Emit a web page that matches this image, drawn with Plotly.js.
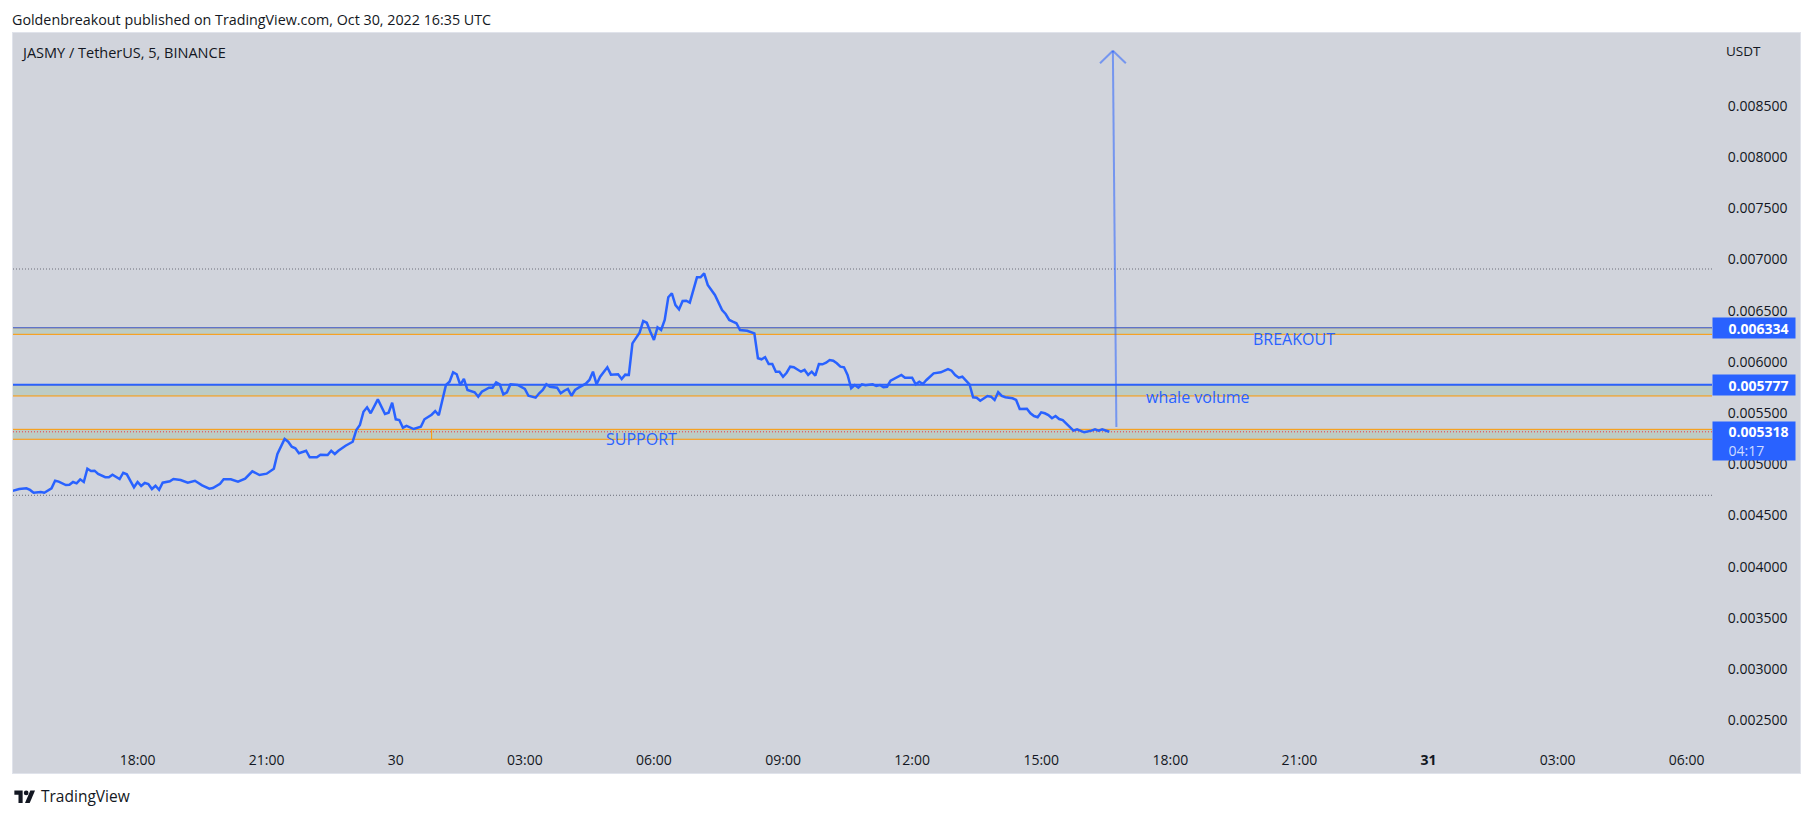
<!DOCTYPE html>
<html><head><meta charset="utf-8">
<script src="https://cdn.plot.ly/plotly-3.0.1.min.js"></script>
<style>
body{margin:0;width:1813px;height:818px;background:#fff;position:relative;overflow:hidden;font-family:"Open Sans",sans-serif;color:#131722}
#hdr{position:absolute;left:12px;top:10px;font-size:14.3px;line-height:20px;white-space:nowrap}
#panel{position:absolute;left:13px;top:33px;width:1787px;height:740px;outline:1px solid #E0E3EB}
#legend{position:absolute;left:23px;top:43px;font-size:14.5px;line-height:20px;white-space:nowrap}
#usdt{position:absolute;left:1726px;top:42px;font-size:13.5px;line-height:18px}
#footer{position:absolute;left:14px;top:786px;height:20px;display:flex;align-items:center;font-size:15.5px;white-space:nowrap}
#footer svg{margin-right:5px}
</style></head>
<body>
<div id="hdr">Goldenbreakout published on TradingView.com, Oct 30, 2022 16:35 UTC</div>
<div id="panel"></div>
<div id="legend">JASMY / TetherUS, 5, BINANCE</div>
<div id="usdt">USDT</div>
<div id="footer"><svg width="22" height="13" viewBox="0 0 36 22"><path d="M14 22H7V8H0V1h14z" fill="#131722"/><circle cx="20" cy="5" r="4" fill="#131722"/><path d="M27 1h8l-9 21h-8z" fill="#131722"/></svg>TradingView</div>
<script>
// ---- data ----
const timesOct29 = [
"15:05","15:15","15:25","15:30","15:35","15:45","15:50",
"16:00","16:05","16:10","16:20","16:25","16:30","16:35","16:40","16:45","16:50","16:55",
"17:00","17:05","17:15","17:20","17:25","17:35","17:40","17:45","17:55",
"18:00","18:05","18:10","18:15","18:20","18:25","18:30","18:35","18:45","18:50",
"19:00","19:10","19:20","19:30","19:40","19:45","19:55",
"20:00","20:10","20:20","20:30","20:40","20:50",
"21:00","21:10","21:15","21:25","21:30","21:35","21:40","21:45","21:55",
"22:00","22:10","22:15","22:25","22:30","22:35","22:40","22:50",
"23:00","23:05","23:10","23:15","23:20","23:25","23:35","23:45","23:50","23:55"];
const pricesOct29 = [
0.004740,0.004759,0.004766,0.004750,0.004723,0.004730,0.004723,
0.004766,0.004840,0.004831,0.004798,0.004801,0.004828,0.004815,0.004854,0.004828,0.004958,0.004935,
0.004938,0.004906,0.004874,0.004874,0.004899,0.004857,0.004918,0.004903,0.004776,
0.004828,0.004789,0.004818,0.004808,0.004759,0.004791,0.004752,0.004821,0.004834,0.004857,
0.004847,0.004821,0.004840,0.004795,0.004762,0.004769,0.004811,
0.004854,0.004854,0.004831,0.004860,0.004932,0.004896,
0.004909,0.004958,0.005101,0.005248,0.005221,0.005172,0.005157,0.005108,0.005133,
0.005069,0.005069,0.005094,0.005091,0.005133,0.005101,0.005133,0.005182,
0.005221,0.005336,0.005384,0.005514,0.005557,0.005499,0.005635,0.005492,0.005504,0.005602];
const timesOct30 = [
"00:00","00:05","00:10","00:15","00:25","00:35","00:40","00:50","00:55",
"01:00","01:10","01:15","01:20","01:25","01:30","01:35","01:40","01:50","01:55",
"02:00","02:10","02:15","02:20","02:25","02:30","02:35","02:40","02:50",
"03:00","03:05","03:15","03:20","03:25","03:30","03:35","03:45","03:50","03:55",
"04:00","04:05","04:10","04:15","04:25","04:30","04:35","04:40","04:45","04:55",
"05:00","05:10","05:15","05:20","05:25","05:30","05:35","05:40","05:45","05:50","05:55",
"06:00","06:05","06:10","06:15","06:20","06:25","06:30","06:35","06:40","06:45","06:50",
"07:00","07:05","07:10","07:15","07:25","07:30","07:35","07:40","07:45","07:50","07:55",
"08:00","08:10","08:20","08:25","08:30","08:35","08:40","08:45","08:50","08:55",
"09:00","09:05","09:10","09:15","09:25","09:30","09:35","09:40","09:45","09:50","09:55",
"10:00","10:05","10:10","10:15","10:20","10:25","10:30","10:35","10:40","10:45","10:50","10:55",
"11:05","11:10","11:15","11:20","11:25","11:30","11:40","11:45","11:50",
"12:00","12:05","12:10","12:15","12:20","12:30","12:40","12:50","12:55",
"13:00","13:05","13:10","13:20","13:25","13:30","13:35","13:45","13:50","13:55",
"14:00","14:05","14:10","14:20","14:25","14:30","14:40","14:45","14:50","14:55",
"15:00","15:05","15:10","15:15","15:20","15:25","15:30","15:35","15:40","15:45","15:50","15:55",
"16:00","16:10","16:15","16:20","16:25","16:35"];
const pricesOct30 = [
0.005440,0.005433,0.005358,0.005375,0.005345,0.005368,0.005440,0.005485,0.005521,
0.005479,0.005775,0.005807,0.005899,0.005880,0.005775,0.005834,0.005726,0.005704,0.005661,
0.005710,0.005749,0.005749,0.005801,0.005782,0.005684,0.005704,0.005782,0.005775,
0.005736,0.005670,0.005651,0.005694,0.005726,0.005782,0.005758,0.005749,0.005694,0.005719,
0.005736,0.005670,0.005726,0.005749,0.005788,0.005824,0.005905,0.005782,0.005856,0.005948,
0.005876,0.005880,0.005834,0.005876,0.005873,0.006182,0.006231,0.006286,0.006400,0.006383,0.006296,
0.006215,0.006339,0.006312,0.006410,0.006632,0.006671,0.006556,0.006514,0.006595,0.006598,0.006579,
0.006827,0.006827,0.006866,0.006752,0.006654,0.006573,0.006508,0.006468,0.006410,0.006393,0.006378,
0.006312,0.006305,0.006280,0.006036,0.006026,0.006046,0.005980,0.005980,0.005905,0.005905,
0.005856,0.005895,0.005954,0.005948,0.005905,0.005922,0.005873,0.005905,0.005866,0.005980,0.005977,
0.005993,0.006019,0.006012,0.005987,0.005954,0.005948,0.005873,0.005743,0.005775,0.005749,0.005782,0.005772,
0.005782,0.005765,0.005775,0.005753,0.005758,0.005817,0.005856,0.005873,0.005846,
0.005846,0.005782,0.005807,0.005785,0.005824,0.005889,0.005899,0.005931,0.005915,
0.005873,0.005846,0.005856,0.005782,0.005655,0.005651,0.005622,0.005668,0.005661,0.005629,
0.005704,0.005668,0.005655,0.005645,0.005629,0.005541,0.005544,0.005499,0.005472,0.005460,
0.005508,0.005499,0.005482,0.005450,0.005472,0.005443,0.005433,0.005401,0.005368,0.005329,0.005342,0.005329,
0.005313,0.005329,0.005342,0.005329,0.005342,0.005318];

const xTickTimes = ["2022-10-29 18:00","2022-10-29 21:00","2022-10-30 00:00","2022-10-30 03:00","2022-10-30 06:00","2022-10-30 09:00","2022-10-30 12:00","2022-10-30 15:00","2022-10-30 18:00","2022-10-30 21:00","2022-10-31 00:00","2022-10-31 03:00","2022-10-31 06:00"];
const xTickLabels = ["18:00","21:00","30","03:00","06:00","09:00","12:00","15:00","18:00","21:00","<b>31</b>","03:00","06:00"];
const yTicks = [0.0025,0.003,0.0035,0.004,0.0045,0.005,0.0055,0.006,0.0065,0.007,0.0075,0.008,0.0085];

const bandLow  = [0.006270, 0.005668, 0.005245];
const bandHigh = [0.006334, 0.005777, 0.005342];
const supportSplitTime = "2022-10-30 00:50";
const dottedLevels = [0.006908, 0.004698];
const blueLevels = [0.006334, 0.005777];
const lastPrice = 0.005318;
const countdown = "04:17";
const labelTexts = ["SUPPORT","BREAKOUT","whale volume"];
const labelTimes = ["2022-10-30 05:42","2022-10-30 20:52","2022-10-30 18:39"];
const labelPrices = [0.005248, 0.006224, 0.005661];
const arrowTimes  = ["2022-10-30 16:44:48","2022-10-30 16:39:54","2022-10-30 16:22:00","2022-10-30 16:58:00"]; // base, tip, left wing, right wing
const arrowPrices = [0.005365, 0.009040, 0.008917, 0.008917];

// ---- build ----
const times = timesOct29.map(t=>"2022-10-29 "+t).concat(timesOct30.map(t=>"2022-10-30 "+t));
const prices = pricesOct29.concat(pricesOct30);
const xRange = ["2022-10-29 15:06:18","2022-10-31 06:35:18"];

const BLUE="#2962FF", ORANGE="#FF9800", BAND="#BDCCC5", FONT="Open Sans, sans-serif", TXT="#131722";
const shapes=[];
bandLow.forEach((lo,i)=>{
  shapes.push({type:"rect",xref:"paper",x0:0,x1:1,yref:"y",y0:lo,y1:bandHigh[i],fillcolor:BAND,line:{width:0},layer:"below"});
  [lo,bandHigh[i]].forEach(v=>shapes.push({type:"line",xref:"paper",x0:0,x1:1,yref:"y",y0:v,y1:v,line:{color:ORANGE,width:1},layer:"below"}));
});
shapes.push({type:"line",xref:"x",x0:supportSplitTime,x1:supportSplitTime,yref:"y",y0:bandLow[2],y1:bandHigh[2],line:{color:ORANGE,width:1},layer:"below"});
dottedLevels.forEach(v=>shapes.push({type:"line",xref:"paper",x0:0,x1:1,yref:"y",y0:v,y1:v,line:{color:"#6A6D78",width:1,dash:"1px,2px"},layer:"below"}));
shapes.push({type:"line",xref:"paper",x0:0,x1:1,yref:"y",y0:lastPrice,y1:lastPrice,line:{color:"#F23645",width:1,dash:"1px,2px"},layer:"below"});
blueLevels.forEach((v,i)=>shapes.push({type:"line",xref:"paper",x0:0,x1:1,yref:"y",y0:v,y1:v,line:{color:BLUE,width:i===1?2:1},layer:"below"}));
const ARROW="rgba(41,98,255,0.55)";
[[0,1],[2,1],[3,1]].forEach(([a,b])=>shapes.push({type:"line",xref:"x",yref:"y",x0:arrowTimes[a],y0:arrowPrices[a],x1:arrowTimes[b],y1:arrowPrices[b],line:{color:ARROW,width:2}}));

const pad="\u00a0\u00a0\u00a0\u00a0";
const annotations=[];
blueLevels.forEach(v=>annotations.push({xref:"paper",x:1,xanchor:"left",yref:"y",y:v,yanchor:"middle",showarrow:false,
  text:pad+"<b>"+v.toFixed(6)+"</b>",align:"left",width:80,height:18,borderpad:1,bgcolor:BLUE,font:{family:FONT,size:14,color:"#fff"}}));
annotations.push({xref:"paper",x:1,xanchor:"left",yref:"y",y:lastPrice,yanchor:"top",yshift:11,showarrow:false,
  text:pad+"<b>"+lastPrice.toFixed(6)+"</b><br>"+pad+"<span style='color:rgba(255,255,255,0.78)'>"+countdown+"</span>",
  align:"left",width:80,height:36,borderpad:1,bgcolor:BLUE,font:{family:FONT,size:14,color:"#fff"}});
labelTexts.forEach((t,i)=>annotations.push({xref:"x",yref:"y",x:labelTimes[i],y:labelPrices[i],text:t,showarrow:false,
  font:{family:FONT,size:16,color:BLUE}}));

const data=[{x:times,y:prices,type:"scatter",mode:"lines",line:{color:BLUE,width:2.5},hoverinfo:"skip"}];
const layout={
  width:1787,height:740,margin:{l:0,r:88,t:0,b:28},
  paper_bgcolor:"#D1D4DC",plot_bgcolor:"#D1D4DC",showlegend:false,
  xaxis:{type:"date",range:xRange,tickvals:xTickTimes,ticktext:xTickLabels,showgrid:false,zeroline:false,showline:false,
    ticks:"outside",ticklen:2,tickcolor:"rgba(0,0,0,0)",tickfont:{family:FONT,size:14,color:TXT},fixedrange:true},
  yaxis:{side:"right",range:[0.002259,0.009213],tickvals:yTicks,ticktext:yTicks.map(v=>v.toFixed(6)),showgrid:false,zeroline:false,showline:false,
    ticks:"outside",ticklen:12,tickcolor:"rgba(0,0,0,0)",tickfont:{family:FONT,size:14,color:TXT},fixedrange:true},
  shapes:shapes,annotations:annotations
};
Plotly.newPlot("panel",data,layout,{staticPlot:true,displayModeBar:false});
</script>
</body></html>
